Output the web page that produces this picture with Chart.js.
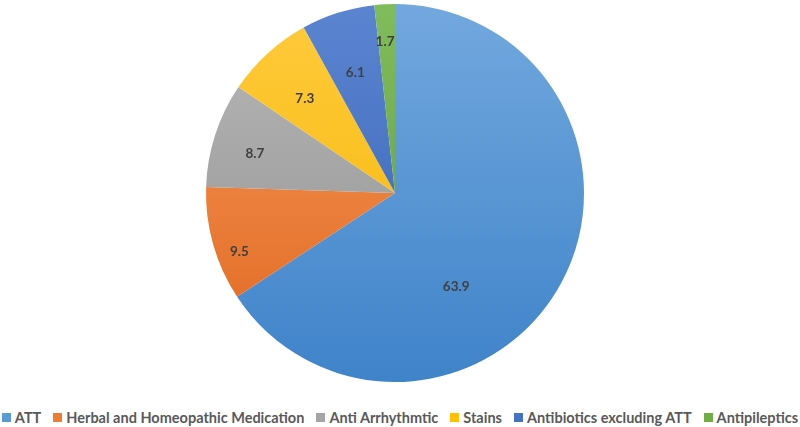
<!DOCTYPE html>
<html>
<head>
<meta charset="utf-8">
<script src="https://cdn.jsdelivr.net/npm/chart.js@4"></script>
<style>
  html, body { margin: 0; padding: 0; background: #fff; }
  #wrap { width: 800px; height: 427px; position: relative; }
  #chart-box { position: absolute; left: 0; top: 0; width: 800px; height: 386px; }
  #legend {
    position: absolute; left: 0; top: 408px; width: 800px; height: 18px;
    display: flex; justify-content: center; align-items: center;
    font: bold 14.5px Lato, "Open Sans", sans-serif; color: #595959; white-space: nowrap;
  }
  #legend .item { display: flex; align-items: center; margin: 0 6px; }
  #legend .box { width: 9px; height: 9px; margin-right: 4px; }
</style>
</head>
<body>
<div id="wrap">
  <div id="chart-box"><canvas id="pie-chart"></canvas></div>
  <div id="legend"></div>
</div>
<script>
// Chart data
const categories = ['ATT', 'Herbal and Homeopathic Medication', 'Anti Arrhythmtic', 'Stains', 'Antibiotics excluding ATT', 'Antipileptics'];
const values = [63.9, 9.5, 8.7, 7.3, 6.1, 1.7];

// Slice colours: light (top) and dark (bottom) of the gradient
const lightColors = ['#72a8de', '#f59a5c', '#b8b8b8', '#ffcb3d', '#5b85d0', '#80bb5c'];
const darkColors = ['#3f83c9', '#e0661d', '#8f8f8f', '#f5b400', '#3460b5', '#5f9c3a'];
const legendColors = ['#5b9bd5', '#ed7d31', '#a5a5a5', '#ffc000', '#4472c4', '#70ad47'];

// Where each value label sits: share of the slice's sweep, share of radius
const labelSweep = [0.62, 0.36, 0.43, 0.45, 0.47, 0.4];
const labelRadius = [0.59, 0.88, 0.77, 0.69, 0.67, 0.8];

const ctx = document.getElementById('pie-chart').getContext('2d');

function sliceGradient(context) {
    const chart = context.chart;
    const area = chart.chartArea;
    if (!area) return legendColors[context.dataIndex];
    const g = chart.ctx.createLinearGradient(0, area.top, 0, area.bottom);
    g.addColorStop(0, lightColors[context.dataIndex]);
    g.addColorStop(1, darkColors[context.dataIndex]);
    return g;
}

// Draw the value labels on the slices
const valueLabels = {
    id: 'valueLabels',
    afterDatasetsDraw(chart) {
        const c = chart.ctx;
        const meta = chart.getDatasetMeta(0);
        c.save();
        c.font = 'bold 13.5px Lato, "Open Sans", sans-serif';
        c.fillStyle = '#404040';
        c.textAlign = 'center';
        c.textBaseline = 'middle';
        meta.data.forEach((arc, i) => {
            const ang = arc.startAngle + (arc.endAngle - arc.startAngle) * labelSweep[i];
            const r = arc.outerRadius * labelRadius[i];
            c.fillText(values[i].toFixed(1), arc.x + Math.cos(ang) * r, arc.y + Math.sin(ang) * r);
        });
        c.restore();
    }
};

const chart = new Chart(ctx, {
    type: 'pie',
    data: {
        labels: categories,
        datasets: [{
            data: values,
            backgroundColor: sliceGradient,
            borderWidth: 0
        }]
    },
    options: {
        responsive: true,
        maintainAspectRatio: false,
        animation: false,
        layout: { padding: { top: 4, bottom: 4, right: 10 } },
        plugins: {
            tooltip: { enabled: false },
            legend: { display: false }
        }
    },
    plugins: [valueLabels]
});

// Legend row under the pie
const legendEl = document.getElementById('legend');
chart.data.labels.forEach((name, i) => {
    const item = document.createElement('span');
    item.className = 'item';
    item.innerHTML = `<span class="box" style="background:${legendColors[i]}"></span>${name}`;
    legendEl.appendChild(item);
});
</script>
</body>
</html>
